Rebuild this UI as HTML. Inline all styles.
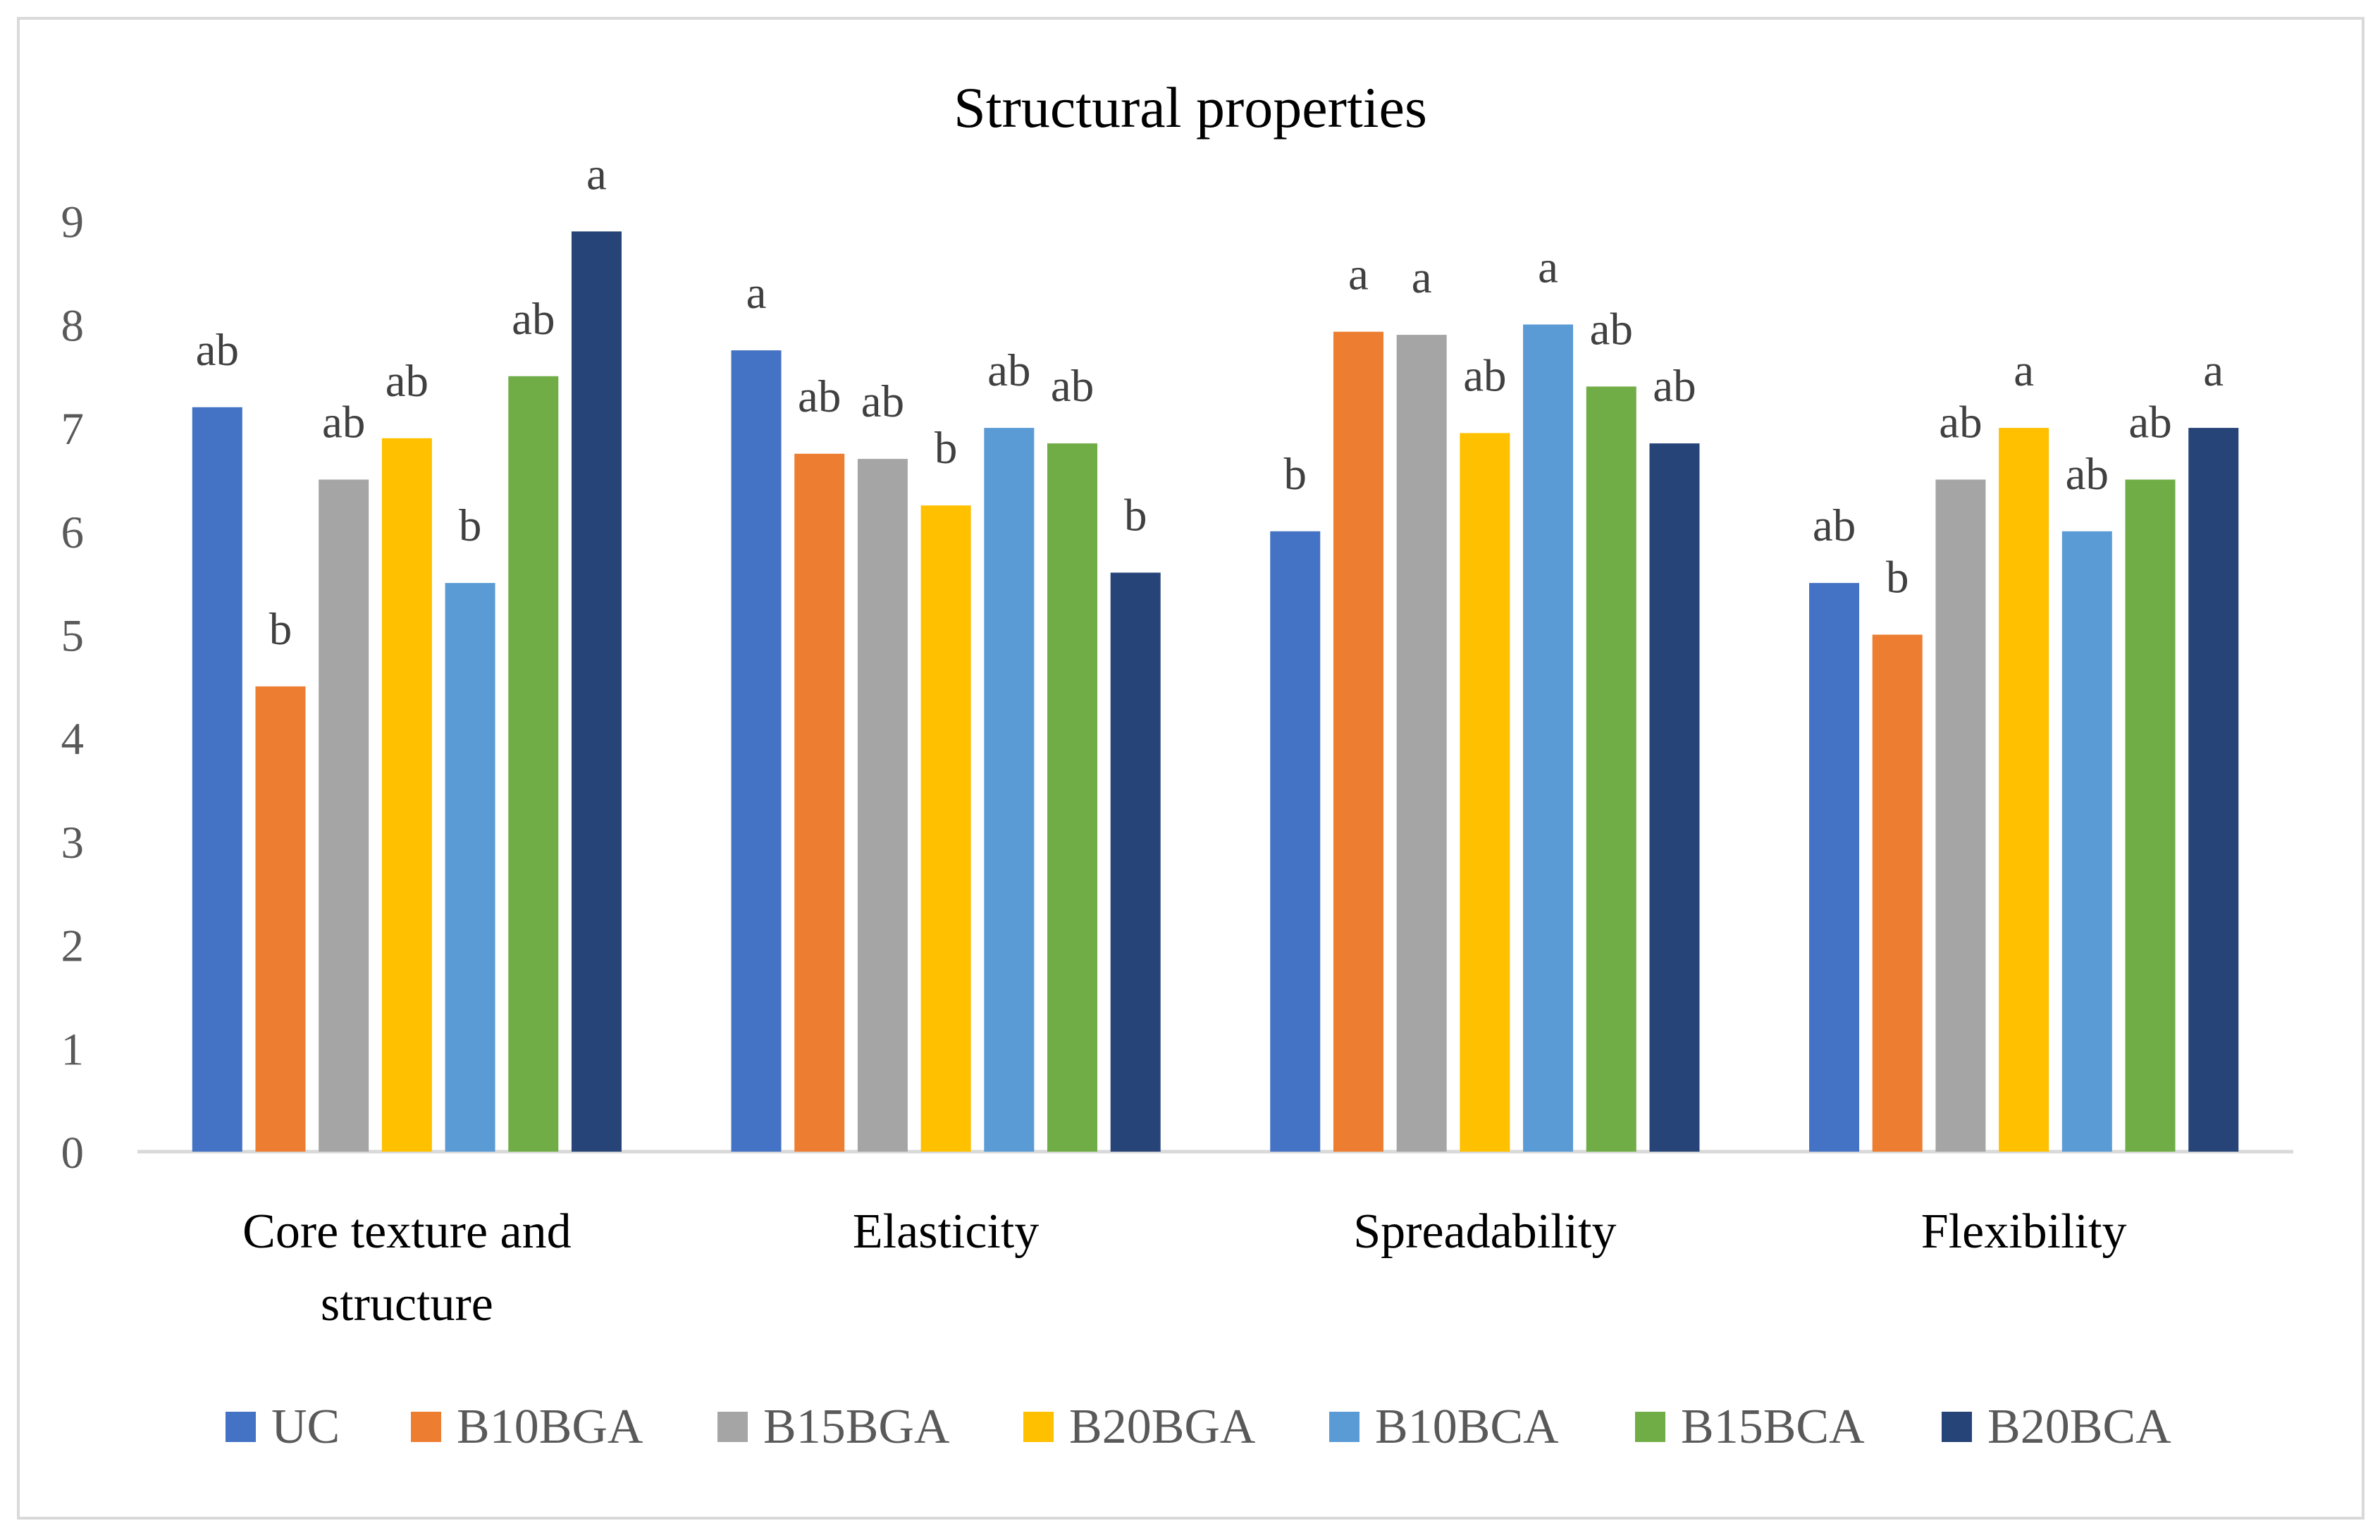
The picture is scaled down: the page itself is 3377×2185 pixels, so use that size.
<!DOCTYPE html>
<html><head><meta charset="utf-8"><style>
html,body{margin:0;padding:0;background:#fff;}
svg{display:block;font-family:"Liberation Serif",serif;}
</style></head><body>
<svg id="chart" width="3377" height="2185" viewBox="0 0 3377 2185" xmlns="http://www.w3.org/2000/svg">
<rect x="26" y="26" width="3327" height="2128" fill="#fff" stroke="#d9d9d9" stroke-width="4"/>
<text x="1689" y="180" font-size="82" text-anchor="middle" fill="#000">Structural properties</text>
<g id="yticks"></g><g id="bars"></g><g id="xlabels"></g><g id="legend"></g>
</svg>
<script>
const categories=[["Core texture and","structure"],["Elasticity"],["Spreadability"],["Flexibility"]];
const seriesNames=["UC","B10BGA","B15BGA","B20BGA","B10BCA","B15BCA","B20BCA"];
const colors=["#4472c4","#ed7d31","#a5a5a5","#ffc000","#5b9bd5","#70ad47","#264478"];
const coreVals=[7.2,4.5,6.5,6.9,5.5,7.5,8.9];
const elasVals=[7.75,6.75,6.7,6.25,7.0,6.85,5.6];
const spreadVals=[6.0,7.93,7.9,6.95,8.0,7.4,6.85];
const flexVals=[5.5,5.0,6.5,7.0,6.0,6.5,7.0];
const coreLetters=["ab","b","ab","ab","b","ab","a"];
const elasLetters=["a","ab","ab","b","ab","ab","b"];
const spreadLetters=["b","a","a","ab","a","ab","ab"];
const flexLetters=["ab","b","ab","a","ab","ab","a"];
const yTicks=[0,1,2,3,4,5,6,7,8,9];
const values=[coreVals,elasVals,spreadVals,flexVals];
const letters=[coreLetters,elasLetters,spreadLetters,flexLetters];
const NS="http://www.w3.org/2000/svg";
const x0=195,x1=3254,y0=1634,unit=146.7;
const yScale=v=>y0-v*unit;
const groupW=(x1-x0)/categories.length;
const barW=71,pitch=89.7;
function mk(tag,attrs,parent){const e=document.createElementNS(NS,tag);for(const k in attrs)e.setAttribute(k,attrs[k]);parent.appendChild(e);return e;}
const yt=document.getElementById('yticks');
yTicks.forEach(t=>{const e=mk('text',{x:119,y:yScale(t)+23,'font-size':65,'text-anchor':'end',fill:'#595959'},yt);e.textContent=t;

});
const axis=mk('line',{x1:x0,x2:x1,y1:y0,y2:y0,stroke:'#d9d9d9','stroke-width':5},yt);


const bg=document.getElementById('bars');
values.forEach((vals,gi)=>{
 const cx=x0+groupW*(gi+0.5);
 const start=cx-(pitch*(vals.length-1)+barW)/2;
 vals.forEach((v,si)=>{
  const bx=start+si*pitch;
  const r=mk('rect',{x:bx,y:yScale(v),width:barW,height:y0-yScale(v),fill:colors[si]},bg);
  
  
  const t=mk('text',{x:bx+barW/2,y:yScale(v)-60,'font-size':65,'text-anchor':'middle',fill:'#404040'},bg);
  t.textContent=letters[gi][si];
  
  
 });
});
const xl=document.getElementById('xlabels');
categories.forEach((lines,gi)=>{
 const cx=x0+groupW*(gi+0.5);
 lines.forEach((ln,li)=>{const t=mk('text',{x:cx,y:1770+li*103,'font-size':70,'text-anchor':'middle',fill:'#000'},xl);t.textContent=ln;
 
 });
});
const lg=document.getElementById('legend');
const legX=[320,583,1018,1452,1886,2320,2755];
seriesNames.forEach((n,i)=>{
 const g=mk('g',{},lg);
 
 
 mk('rect',{x:legX[i],y:2003,width:43,height:43,fill:colors[i]},g);
 const t=mk('text',{x:legX[i]+65,y:2047,'font-size':70,fill:'#595959'},g);t.textContent=n;
});
</script>
</body></html>
